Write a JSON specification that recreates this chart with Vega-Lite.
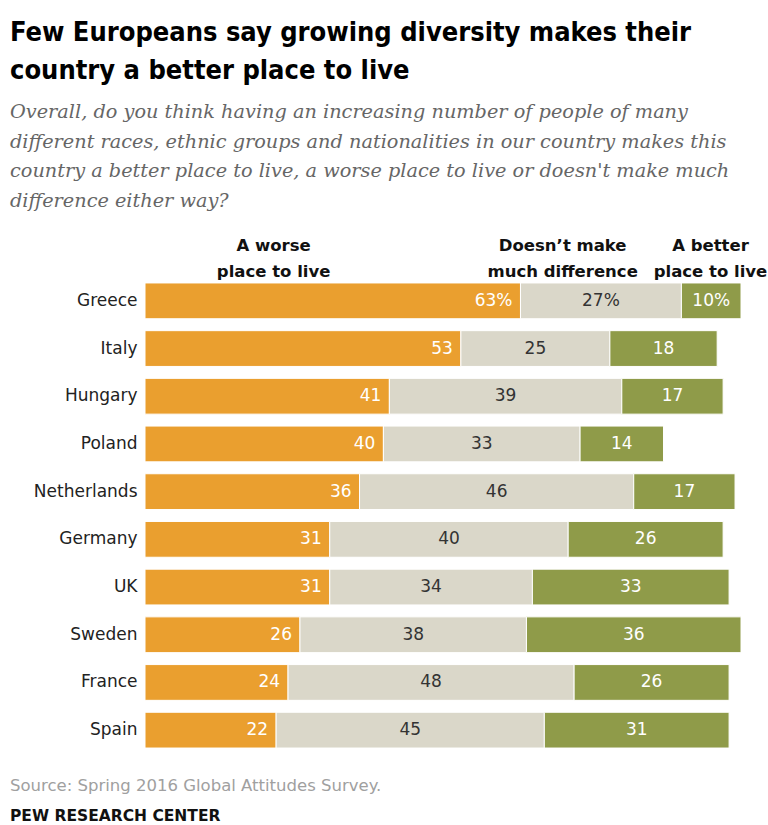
{
  "$schema": "https://vega.github.io/schema/vega-lite/v6.json",
  "background": "white",
  "padding": {"left": 10, "top": 19, "right": 0, "bottom": 0},
  "title": {
    "text": ["Few Europeans say growing diversity makes their", "country a better place to live"],
    "subtitle": ["Overall, do you think having an increasing number of people of many", "different races, ethnic groups and nationalities in our country makes this", "country a better place to live, a worse place to live or doesn't make much", "difference either way?"],
    "anchor": "start",
    "frame": "bounds",
    "font": "DejaVu Sans Condensed",
    "fontSize": 27,
    "fontWeight": "bold",
    "color": "#000000",
    "lineHeight": 38,
    "subtitleFont": "DejaVu Serif",
    "subtitleFontStyle": "italic",
    "subtitleFontSize": 19.3,
    "subtitleColor": "#666666",
    "subtitleLineHeight": 29.5,
    "subtitlePadding": 18,
    "offset": 25
  },
  "vconcat": [
    {
      "width": 596,
      "height": 477,
      "title": {
        "text": "Source: Spring 2016 Global Attitudes Survey.",
        "subtitle": "PEW RESEARCH CENTER",
        "orient": "bottom",
        "anchor": "start",
        "frame": "bounds",
        "font": "DejaVu Sans",
        "fontSize": 16.5,
        "fontWeight": "normal",
        "color": "#a0a0a0",
        "subtitleFont": "DejaVu Sans",
        "subtitleFontWeight": "bold",
        "subtitleFontSize": 15.5,
        "subtitleColor": "#111111",
        "subtitlePadding": 14,
        "offset": 24
      },
      "data": {
        "values": [
          {"country": "Greece", "answer": "Worse", "order": 1, "value": 63},
          {"country": "Greece", "answer": "No difference", "order": 2, "value": 27},
          {"country": "Greece", "answer": "Better", "order": 3, "value": 10},
          {"country": "Italy", "answer": "Worse", "order": 1, "value": 53},
          {"country": "Italy", "answer": "No difference", "order": 2, "value": 25},
          {"country": "Italy", "answer": "Better", "order": 3, "value": 18},
          {"country": "Hungary", "answer": "Worse", "order": 1, "value": 41},
          {"country": "Hungary", "answer": "No difference", "order": 2, "value": 39},
          {"country": "Hungary", "answer": "Better", "order": 3, "value": 17},
          {"country": "Poland", "answer": "Worse", "order": 1, "value": 40},
          {"country": "Poland", "answer": "No difference", "order": 2, "value": 33},
          {"country": "Poland", "answer": "Better", "order": 3, "value": 14},
          {"country": "Netherlands", "answer": "Worse", "order": 1, "value": 36},
          {"country": "Netherlands", "answer": "No difference", "order": 2, "value": 46},
          {"country": "Netherlands", "answer": "Better", "order": 3, "value": 17},
          {"country": "Germany", "answer": "Worse", "order": 1, "value": 31},
          {"country": "Germany", "answer": "No difference", "order": 2, "value": 40},
          {"country": "Germany", "answer": "Better", "order": 3, "value": 26},
          {"country": "UK", "answer": "Worse", "order": 1, "value": 31},
          {"country": "UK", "answer": "No difference", "order": 2, "value": 34},
          {"country": "UK", "answer": "Better", "order": 3, "value": 33},
          {"country": "Sweden", "answer": "Worse", "order": 1, "value": 26},
          {"country": "Sweden", "answer": "No difference", "order": 2, "value": 38},
          {"country": "Sweden", "answer": "Better", "order": 3, "value": 36},
          {"country": "France", "answer": "Worse", "order": 1, "value": 24},
          {"country": "France", "answer": "No difference", "order": 2, "value": 48},
          {"country": "France", "answer": "Better", "order": 3, "value": 26},
          {"country": "Spain", "answer": "Worse", "order": 1, "value": 22},
          {"country": "Spain", "answer": "No difference", "order": 2, "value": 45},
          {"country": "Spain", "answer": "Better", "order": 3, "value": 31}
        ]
      },
      "transform": [
        {"stack": "value", "groupby": ["country"], "sort": [{"field": "order", "order": "ascending"}], "as": ["x0", "x1"]},
        {"calculate": "(datum.x0 + datum.x1) / 2", "as": "mid"},
        {"calculate": "datum.country === 'Greece' ? datum.value + '%' : '' + datum.value", "as": "label"}
      ],
      "encoding": {
        "y": {
          "field": "country",
          "type": "nominal",
          "sort": ["Greece", "Italy", "Hungary", "Poland", "Netherlands", "Germany", "UK", "Sweden", "France", "Spain"],
          "scale": {"paddingInner": 0.25, "paddingOuter": 0.125},
          "axis": {
            "title": null,
            "ticks": false,
            "domain": false,
            "grid": false,
            "labelFont": "DejaVu Sans",
            "labelFontSize": 17,
            "labelColor": "#222222",
            "labelPadding": 8,
            "minExtent": 135,
            "maxExtent": 135
          }
        }
      },
      "layer": [
        {
          "mark": {"type": "bar", "stroke": "white", "strokeWidth": 1},
          "encoding": {
            "x": {
              "field": "x0",
              "type": "quantitative",
              "scale": {"domain": [0, 100], "nice": false, "zero": true},
              "axis": {
                "orient": "top",
                "title": null,
                "values": [21.5, 70, 94.8],
                "labelExpr": "datum.value < 30 ? ['A worse', 'place to live'] : datum.value < 80 ? ['Doesn\u2019t make', 'much difference'] : ['A better', 'place to live']",
                "labelFont": "DejaVu Sans",
                "labelFontWeight": "bold",
                "labelFontSize": 16.5,
                "labelColor": "#111111",
                "labelLineHeight": 26,
                "labelPadding": 24,
                "labelFlush": false,
                "labelOverlap": false,
                "labelBound": false,
                "ticks": false,
                "domain": false,
                "grid": false
              }
            },
            "x2": {"field": "x1"},
            "color": {
              "field": "answer",
              "type": "nominal",
              "scale": {"domain": ["Worse", "No difference", "Better"], "range": ["#EA9F2F", "#DAD7C9", "#8F9B49"]},
              "legend": null
            }
          }
        },
        {
          "transform": [{"filter": "datum.order === 1"}],
          "mark": {"type": "text", "align": "right", "baseline": "middle", "dx": -8, "font": "DejaVu Sans", "fontSize": 17, "color": "white"},
          "encoding": {
            "x": {"field": "x1", "type": "quantitative"},
            "text": {"field": "label"}
          }
        },
        {
          "transform": [{"filter": "datum.order !== 1"}],
          "mark": {"type": "text", "align": "center", "baseline": "middle", "font": "DejaVu Sans", "fontSize": 17},
          "encoding": {
            "x": {"field": "mid", "type": "quantitative"},
            "text": {"field": "label"},
            "color": {"condition": {"test": "datum.order === 2", "value": "#333333"}, "value": "white"}
          }
        }
      ]
    }
  ],
  "config": {"view": {"stroke": null}, "concat": {"spacing": 0}}
}
